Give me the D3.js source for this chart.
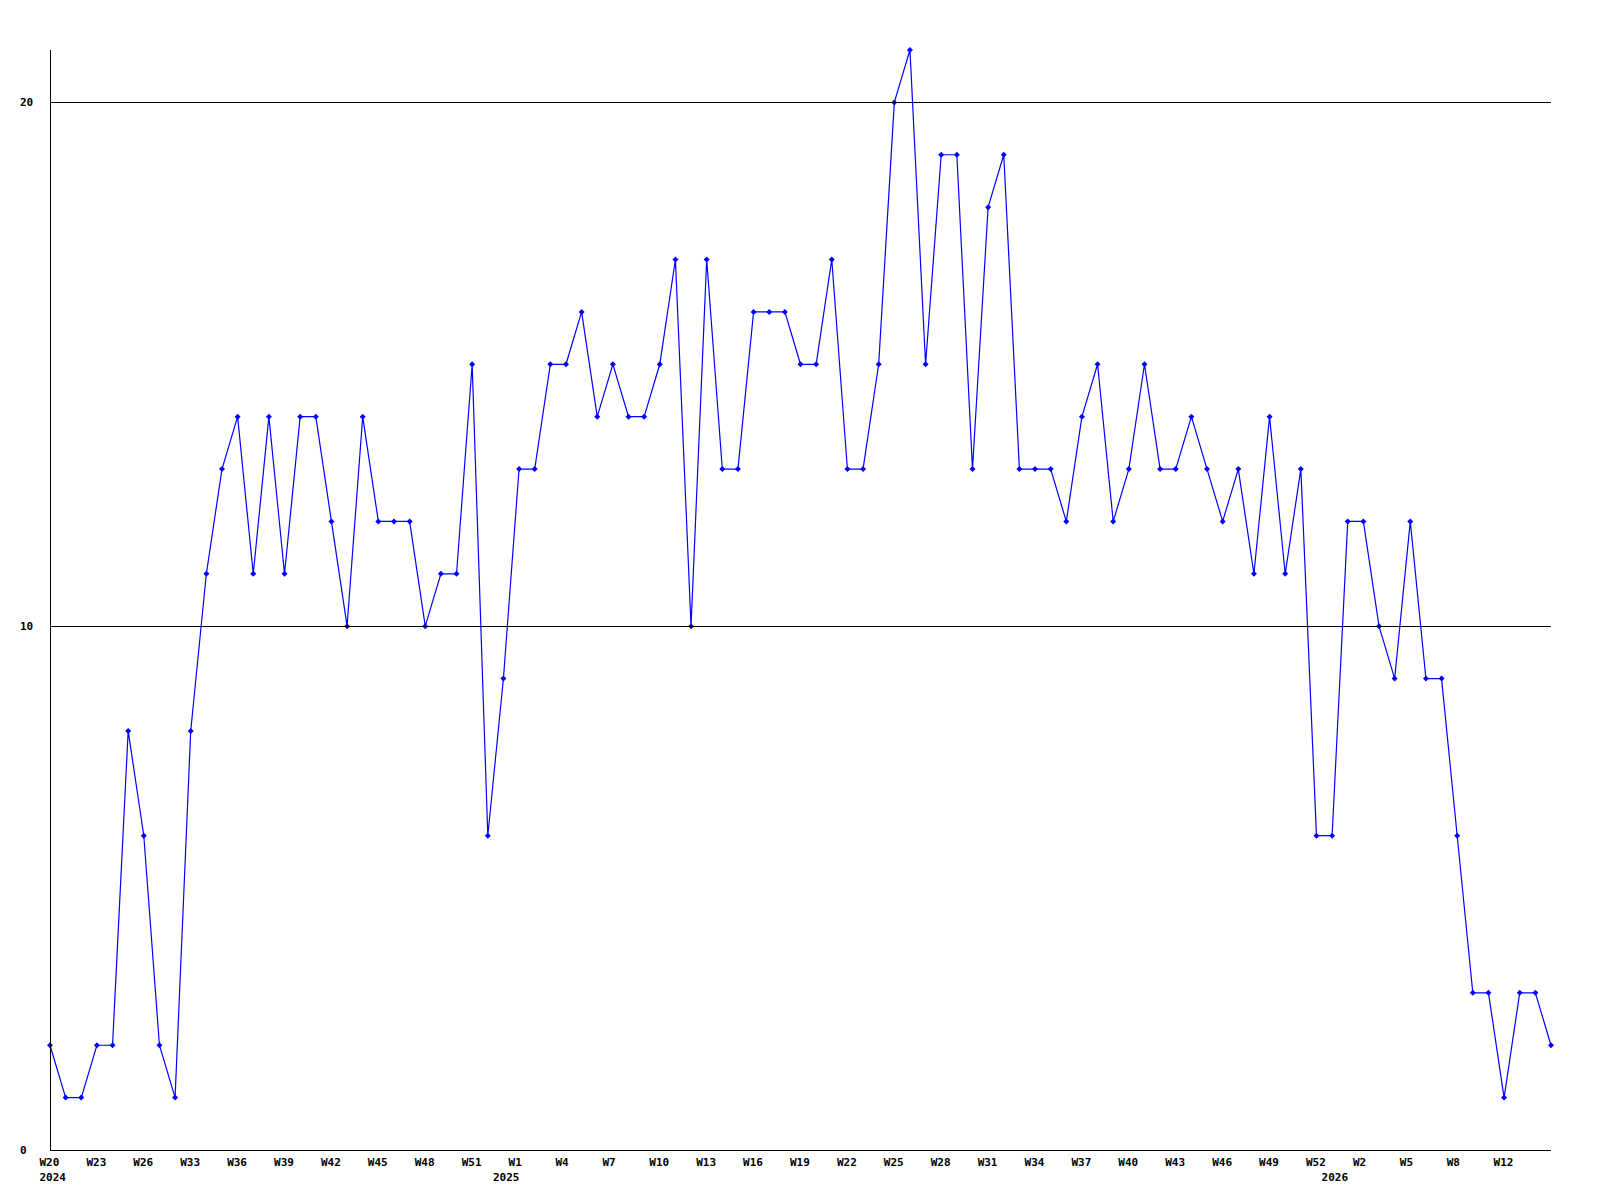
<!DOCTYPE html>
<html>
<head>
<meta charset="utf-8">
<script src="https://cdn.jsdelivr.net/npm/d3@7/dist/d3.min.js"></script>
<style>
  html, body { margin: 0; padding: 0; background: #fff; }
  svg { display: block; }
  text { font-family: "DejaVu Sans Mono", monospace; font-weight: bold; font-size: 11px; fill: #000; }
</style>
</head>
<body>
<svg id="chart" width="1600" height="1200"></svg>
<script>
// ---- data ----
const values = [
  2, 1, 1, 2, 2, 8, 6, 2, 1, 8,
  11, 13, 14, 11, 14, 11, 14, 14, 12, 10,
  14, 12, 12, 12, 10, 11, 11, 15, 6, 9,
  13, 13, 15, 15, 16, 14, 15, 14, 14, 15,
  17, 10, 17, 13, 13, 16, 16, 16, 15, 15,
  17, 13, 13, 15, 20, 21, 15, 19, 19, 13,
  18, 19, 13, 13, 13, 12, 14, 15, 12, 13,
  15, 13, 13, 14, 13, 12, 13, 11, 14, 11,
  13, 6, 6, 12, 12, 10, 9, 12, 9, 9,
  6, 3, 3, 1, 3, 3, 2
];
const weekTickLabels = ["W20","W23","W26","W33","W36","W39","W42","W45","W48","W51",
  "W1","W4","W7","W10","W13","W16","W19","W22","W25","W28","W31","W34","W37","W40",
  "W43","W46","W49","W52","W2","W5","W8","W12"];
const weekTickStep = 3;
const yearLabels = ["2024", "2025", "2026"];
const yearIndex = [0, 29, 82];
const yTicks = [0, 10, 20];

// ---- layout ----
const svg = d3.select("#chart");
const mLeft = 50, mRight = 1551, mTop = 50, mBottom = 1150;

const x = d3.scaleLinear().domain([0, values.length - 1]).range([mLeft, mRight]);
const y = d3.scaleLinear().domain([0, d3.max(values)]).range([mBottom, mTop]);

// series line
const line = d3.line().x((d, i) => x(i)).y(d => y(d));
svg.append("path")
  .datum(values)
  .attr("d", line)
  .attr("fill", "none")
  .attr("stroke", "#0000ff")
  .attr("stroke-width", 1.2);

// markers (small diamonds)
svg.append("g").selectAll("path")
  .data(values)
  .join("path")
  .attr("transform", (d, i) => `translate(${x(i)},${y(d)})`)
  .attr("d", "M-3,0L0,-3L3,0L0,3Z")
  .attr("fill", "#0000ff");

// gridlines drawn over the series
svg.append("g").selectAll("line")
  .data(yTicks.filter(v => v > 0))
  .join("line")
  .attr("x1", mLeft).attr("x2", mRight)
  .attr("y1", d => Math.round(y(d)) + 0.5).attr("y2", d => Math.round(y(d)) + 0.5)
  .attr("stroke", "#000").attr("stroke-width", 1);

// axes
svg.append("line")
  .attr("x1", mLeft + 0.5).attr("x2", mLeft + 0.5)
  .attr("y1", mTop).attr("y2", mBottom + 0.5)
  .attr("stroke", "#000");
svg.append("line")
  .attr("x1", mLeft).attr("x2", mRight)
  .attr("y1", mBottom + 0.5).attr("y2", mBottom + 0.5)
  .attr("stroke", "#000");

// y tick labels
svg.append("g").selectAll("text")
  .data(yTicks)
  .join("text")
  .attr("x", 20)
  .attr("y", d => y(d) + 4)
  .text(d => d);

// x tick labels
svg.append("g").selectAll("text")
  .data(weekTickLabels)
  .join("text")
  .attr("x", (d, i) => x(i * weekTickStep) - 10.5)
  .attr("y", 1166)
  .text(d => d);

// year labels
svg.append("g").selectAll("text")
  .data(yearLabels)
  .join("text")
  .attr("x", (d, i) => x(yearIndex[i]) - 10.5)
  .attr("y", 1181)
  .text(d => d);
</script>
</body>
</html>
